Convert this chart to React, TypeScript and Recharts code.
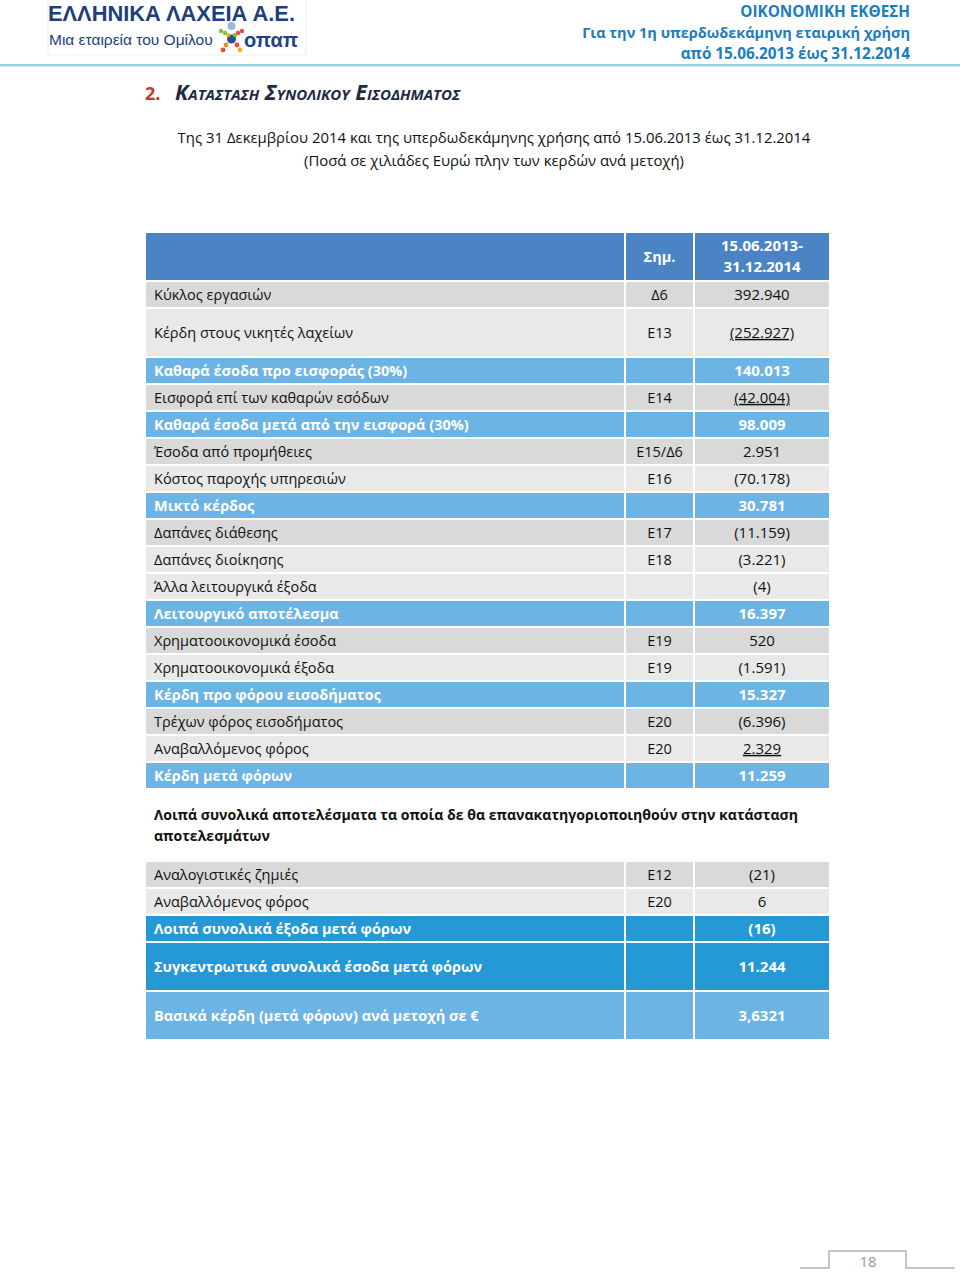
import React from 'react';
import { Surface, Layer, Rectangle, Text } from 'recharts';

// --- data ---
const mainLabels = [
  'Κύκλος εργασιών',
  'Κέρδη στους νικητές λαχείων',
  'Καθαρά έσοδα προ εισφοράς (30%)',
  'Εισφορά επί των καθαρών εσόδων',
  'Καθαρά έσοδα μετά από την εισφορά (30%)',
  'Έσοδα από προμήθειες',
  'Κόστος παροχής υπηρεσιών',
  'Μικτό κέρδος',
  'Δαπάνες διάθεσης',
  'Δαπάνες διοίκησης',
  'Άλλα λειτουργικά έξοδα',
  'Λειτουργικό αποτέλεσμα',
  'Χρηματοοικονομικά έσοδα',
  'Χρηματοοικονομικά έξοδα',
  'Κέρδη προ φόρου εισοδήματος',
  'Τρέχων φόρος εισοδήματος',
  'Αναβαλλόμενος φόρος',
  'Κέρδη μετά φόρων',
];
const mainNotes = ['Δ6', 'Ε13', '', 'Ε14', '', 'Ε15/Δ6', 'Ε16', '', 'Ε17', 'Ε18', '', '', 'Ε19', 'Ε19', '', 'Ε20', 'Ε20', ''];
const mainAmounts = [
  '392.940', '(252.927)', '140.013', '(42.004)', '98.009', '2.951', '(70.178)', '30.781', '(11.159)',
  '(3.221)', '(4)', '16.397', '520', '(1.591)', '15.327', '(6.396)', '2.329', '11.259',
];
const mainKinds = [
  'item', 'itemAlt', 'subtotal', 'item', 'subtotal', 'item', 'itemAlt', 'subtotal', 'item',
  'itemAlt', 'itemAlt', 'subtotal', 'item', 'itemAlt', 'subtotal', 'item', 'itemAlt', 'subtotal',
];
const mainUnderlined = ['(252.927)', '(42.004)', '2.329'];

const otherLabels = [
  'Αναλογιστικές ζημιές',
  'Αναβαλλόμενος φόρος',
  'Λοιπά συνολικά έξοδα μετά φόρων',
  'Συγκεντρωτικά συνολικά έσοδα μετά φόρων',
  'Βασικά κέρδη (μετά φόρων) ανά μετοχή σε €',
];
const otherNotes = ['Ε12', 'Ε20', '', '', ''];
const otherAmounts = ['(21)', '6', '(16)', '11.244', '3,6321'];
const otherKinds = ['item', 'itemAlt', 'total', 'total', 'subtotal'];

const headerNote = 'Σημ.';
const headerPeriod = ['15.06.2013-', '31.12.2014'];
const sectionNote = ['Λοιπά συνολικά αποτελέσματα τα οποία δε θα επανακατηγοριοποιηθούν στην κατάσταση', 'αποτελεσμάτων'];
const subtitle = [
  'Της 31 Δεκεμβρίου 2014 και της υπερδωδεκάμηνης χρήσης από 15.06.2013 έως 31.12.2014',
  '(Ποσά σε χιλιάδες Ευρώ πλην των κερδών ανά μετοχή)',
];
const reportTitle = ['ΟΙΚΟΝΟΜΙΚΗ ΕΚΘΕΣΗ', 'Για την 1η υπερδωδεκάμηνη εταιρική χρήση', 'από 15.06.2013 έως 31.12.2014'];
const pageNumber = '18';

// --- layout / style ---
const FONT = "'Open Sans', 'Noto Sans', sans-serif";
const ARIAL = "'Liberation Sans', Arial, sans-serif";
const X0 = 146;
const C1 = 624;
const C2 = 626;
const C3 = 693;
const C4 = 695;
const X1 = 829;
const GAP = 2;
const mainPitch = [27, 49, 27, 27, 27, 27, 27, 27, 27, 27, 27, 27, 27, 27, 27, 27, 27, 27];
const otherPitch = [27, 27, 27, 49, 49];

const fills: Record<string, string> = {
  item: '#d9d9d9',
  itemAlt: '#e9e9e9',
  subtotal: '#6cb4e4',
  total: '#2598d6',
  header: '#4a84c4',
};

const TEXT_SIZE = 14.5;

function Rows({ top, pitch, labels, notes, amounts, kinds }: any) {
  let y = top;
  return (
    <Layer>
      {labels.map((label: string, i: number) => {
        const h = pitch[i] - GAP;
        const rowY = y;
        y += pitch[i];
        const kind = kinds[i];
        const fill = fills[kind];
        const strong = kind === 'subtotal' || kind === 'total';
        const color = strong ? '#ffffff' : '#111111';
        const cy = rowY + h / 2;
        const common = {
          fill: color,
          fontSize: TEXT_SIZE,
          fontFamily: FONT,
          fontWeight: strong ? 700 : 400,
          verticalAnchor: 'middle' as const,
          y: cy,
        };
        const underline = mainUnderlined.includes(amounts[i]) && kinds === mainKinds;
        return (
          <Layer key={label + i}>
            <Rectangle x={X0} y={rowY} width={C1 - X0} height={h} fill={fill} />
            <Rectangle x={C2} y={rowY} width={C3 - C2} height={h} fill={fill} />
            <Rectangle x={C4} y={rowY} width={X1 - C4} height={h} fill={fill} />
            <Text {...common} x={154} textAnchor="start">{label}</Text>
            {notes[i] ? (
              <Text {...common} x={(C2 + C3) / 2} textAnchor="middle">{notes[i]}</Text>
            ) : null}
            <Text
              {...common}
              x={(C4 + X1) / 2}
              textAnchor="middle"
              fontSize={TEXT_SIZE + 0.5}
              style={underline ? { textDecoration: 'underline' } : undefined}
            >
              {amounts[i]}
            </Text>
          </Layer>
        );
      })}
    </Layer>
  );
}

function OpapLogo() {
  const dots = [
    { cx: 221, cy: 31, r: 2.2, c: '#7cc242' },
    { cx: 225, cy: 33, r: 2.2, c: '#7cc242' },
    { cx: 238, cy: 33, r: 2.2, c: '#e94b3c' },
    { cx: 242, cy: 31, r: 2.2, c: '#e94b3c' },
    { cx: 228, cy: 35, r: 2.2, c: '#f5b21b' },
    { cx: 235, cy: 35, r: 2.2, c: '#7cc242' },
    { cx: 226, cy: 45, r: 2.4, c: '#f08a24' },
    { cx: 223, cy: 50, r: 2.4, c: '#e94b3c' },
    { cx: 237, cy: 45, r: 2.4, c: '#e94b3c' },
    { cx: 240, cy: 50, r: 2.4, c: '#f5b21b' },
  ];
  return (
    <g>
      <circle cx={231.5} cy={26} r={4} fill="#9fb7d6" />
      <circle cx={231.5} cy={39} r={4.5} fill="#2a4d9b" />
      {dots.map((d, i) => (
        <circle key={i} cx={d.cx} cy={d.cy} r={d.r} fill={d.c} />
      ))}
      <text x={244} y={47} fontFamily={ARIAL} fontWeight={700} fontSize={20} fill="#1f3f8a">οπαπ</text>
    </g>
  );
}

export default function App() {
  const mainTop = 233;
  const mainRowsTop = mainTop + 49;
  const otherTop = 862;
  return (
    <div style={{ position: 'absolute', left: 0, top: 0, width: 960, height: 1273, background: '#fff', overflow: 'hidden' }}>
      <Surface width={960} height={1273}>
        {/* page header */}
        <rect x={48} y={-2} width={258} height={57} fill="none" stroke="#efefef" />
        <text
          x={48}
          y={21}
          fontFamily={ARIAL}
          fontWeight={700}
          fontSize={22}
          fill="#1e3f7c"
          textLength={247}
          lengthAdjust="spacingAndGlyphs"
        >
          ΕΛΛΗΝΙΚΑ ΛΑΧΕΙΑ Α.Ε.
        </text>
        <text x={49} y={45} fontFamily={ARIAL} fontSize={15.5} fill="#1e3f7c">Μια εταιρεία του Ομίλου</text>
        <OpapLogo />
        {reportTitle.map((t, i) => (
          <Text
            key={t}
            x={910}
            y={12 + i * 21}
            textAnchor="end"
            verticalAnchor="middle"
            fontFamily={FONT}
            fontWeight={700}
            fontSize={i === 1 ? 14.5 : 15.3}
            fill="#1c7cc0"
          >
            {t}
          </Text>
        ))}
        <rect x={0} y={64} width={960} height={2.5} fill="#9ad0e8" />

        {/* section title */}
        <text x={145} y={100} fontFamily={FONT} fontWeight={700} fontSize={18} fill="#c0392b">2.</text>
        <text
          x={175}
          y={100}
          fontFamily={FONT}
          fontWeight={700}
          fontStyle="italic"
          fontSize={21.6}
          fill="#1f2a44"
          style={{ fontVariant: 'small-caps' }}
        >
          Κατασταση Συνολικου Εισοδηματος
        </text>

        {subtitle.map((t, i) => (
          <Text
            key={t}
            x={494}
            y={138 + i * 23}
            textAnchor="middle"
            verticalAnchor="middle"
            fontFamily={FONT}
            fontSize={14.9}
            fill="#111"
          >
            {t}
          </Text>
        ))}

        {/* main table header */}
        <Rectangle x={X0} y={mainTop} width={C1 - X0} height={47} fill={fills.header} />
        <Rectangle x={C2} y={mainTop} width={C3 - C2} height={47} fill={fills.header} />
        <Rectangle x={C4} y={mainTop} width={X1 - C4} height={47} fill={fills.header} />
        <Text
          x={(C2 + C3) / 2}
          y={257}
          textAnchor="middle"
          verticalAnchor="middle"
          fontFamily={FONT}
          fontWeight={700}
          fontSize={TEXT_SIZE}
          fill="#fff"
        >
          {headerNote}
        </Text>
        {headerPeriod.map((t, i) => (
          <Text
            key={t}
            x={(C4 + X1) / 2}
            y={246 + i * 21}
            textAnchor="middle"
            verticalAnchor="middle"
            fontFamily={FONT}
            fontWeight={700}
            fontSize={TEXT_SIZE + 0.5}
            fill="#fff"
          >
            {t}
          </Text>
        ))}

        <Rows top={mainRowsTop} pitch={mainPitch} labels={mainLabels} notes={mainNotes} amounts={mainAmounts} kinds={mainKinds} />

        {sectionNote.map((t, i) => (
          <Text
            key={t}
            x={154}
            y={815 + i * 21}
            textAnchor="start"
            verticalAnchor="middle"
            fontFamily={FONT}
            fontWeight={700}
            fontSize={14.1}
            fill="#111"
          >
            {t}
          </Text>
        ))}

        <Rows top={otherTop} pitch={otherPitch} labels={otherLabels} notes={otherNotes} amounts={otherAmounts} kinds={otherKinds} />

        {/* footer */}
        <polyline
          points="800,1268 829,1268 829,1251 906,1251 906,1268 955,1268"
          fill="none"
          stroke="#b3b3b3"
          strokeWidth={1.5}
        />
        <Text x={868} y={1262} textAnchor="middle" verticalAnchor="middle" fontFamily={FONT} fontSize={15} fill="#9a9a9a">
          {pageNumber}
        </Text>
      </Surface>
    </div>
  );
}
